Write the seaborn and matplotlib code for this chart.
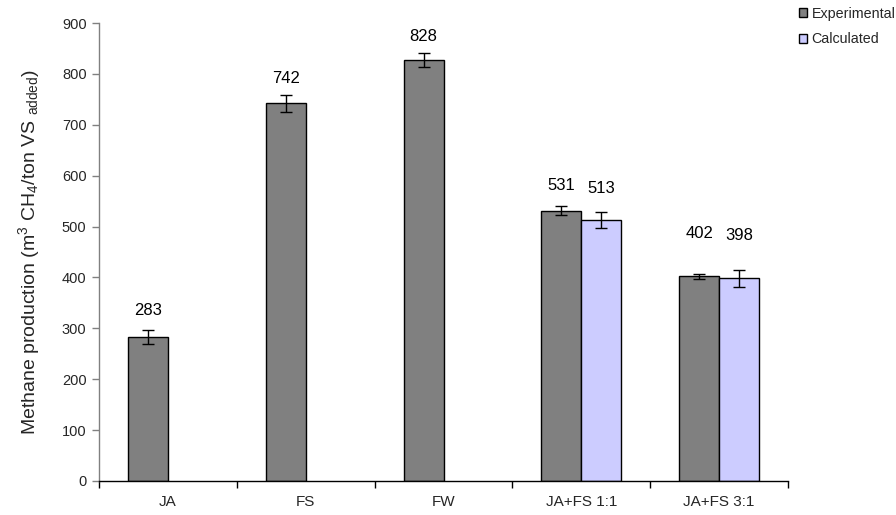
import numpy as np
import pandas as pd
import matplotlib
matplotlib.use("Agg")
import matplotlib.pyplot as plt
import seaborn as sns
from matplotlib.patches import Patch

# --- data ---
categories = ["JA", "FS", "FW", "JA+FS 1:1", "JA+FS 3:1"]
experimental = [283, 742, 828, 531, 402]
experimental_err = [13, 16, 14, 9, 5]
calculated = [np.nan, np.nan, np.nan, 513, 398]
calculated_err = [np.nan, np.nan, np.nan, 16, 16]
series = ["Experimental", "Calculated"]

# label lift above each bar (data units), same order as the bars
label_lift_exp = [53, 48, 46, 50, 85]
label_lift_calc = [0, 0, 0, 61, 85]

colors = {"Experimental": "#808080", "Calculated": "#ccccff"}

df = pd.DataFrame({
    "category": categories * 2,
    "series": ["Experimental"] * 5 + ["Calculated"] * 5,
    "value": experimental + calculated,
    "err": experimental_err + calculated_err,
    "lift": label_lift_exp + label_lift_calc,
})

sns.set_theme(style="ticks")
plt.rcParams["font.family"] = ["Liberation Sans", "DejaVu Sans"]
plt.rcParams["mathtext.default"] = "regular"

fig = plt.figure(figsize=(8.96, 5.15), dpi=100)
ax = fig.add_axes([99 / 896, 34 / 515, 689 / 896, 458 / 515])

sns.barplot(data=df, x="category", y="value", hue="series", hue_order=series,
            order=categories, palette=colors, width=0.58, errorbar=None,
            saturation=1, edgecolor="black", linewidth=1.0, ax=ax,
            legend=False)

# error bars and value labels
for container, name in zip(ax.containers, series):
    sub = df[df["series"] == name].set_index("category")
    for bar in container:
        h = bar.get_height()
        if not np.isfinite(h) or h == 0:
            continue
        xc = bar.get_x() + bar.get_width() / 2
        cat = categories[int(round(xc))]
        e = sub.loc[cat, "err"]
        ax.errorbar(xc, h, yerr=e, color="black", capsize=4.5,
                    elinewidth=1.0, capthick=1.0, fmt="none")
        ax.text(xc, h + sub.loc[cat, "lift"], f"{h:.0f}", ha="center",
                va="center", fontsize=12, color="black")

ax.set_xlim(-0.5, 4.5)
ax.set_ylim(0, 900)
ax.set_yticks(range(0, 901, 100))
ax.tick_params(axis="y", direction="out", length=5, width=1, color="#808080",
               labelsize=10.5, pad=4)

# category boundary ticks, labels in the middle
ax.set_xticks(np.arange(-0.5, 4.6, 1.0))
ax.set_xticklabels([])
ax.set_xticks(range(5), minor=True)
ax.set_xticklabels(categories, minor=True)
ax.tick_params(axis="x", which="major", direction="out", length=5, width=1,
               color="black")
ax.tick_params(axis="x", which="minor", length=0, labelsize=11, pad=10)

ax.set_xlabel("")
ax.set_ylabel("Methane production (m$^3$ CH$_4$/ton VS $_{added}$)",
              fontsize=14, labelpad=14)

for s in ["top", "right"]:
    ax.spines[s].set_visible(False)
ax.spines["left"].set_color("#808080")
ax.spines["bottom"].set_color("black")
ax.spines["left"].set_linewidth(1.0)
ax.spines["bottom"].set_linewidth(1.0)

handles = [Patch(facecolor=colors[s], edgecolor="black", linewidth=1.0)
           for s in series]
fig.legend(handles, series, loc="upper left",
           bbox_to_anchor=(793 / 896, 1 - 1 / 515), frameon=False,
           fontsize=10.3, handlelength=0.6, handleheight=0.6,
           handletextpad=0.3, labelspacing=0.8, borderaxespad=0)

fig.savefig("out.png", dpi=100, facecolor="white")
